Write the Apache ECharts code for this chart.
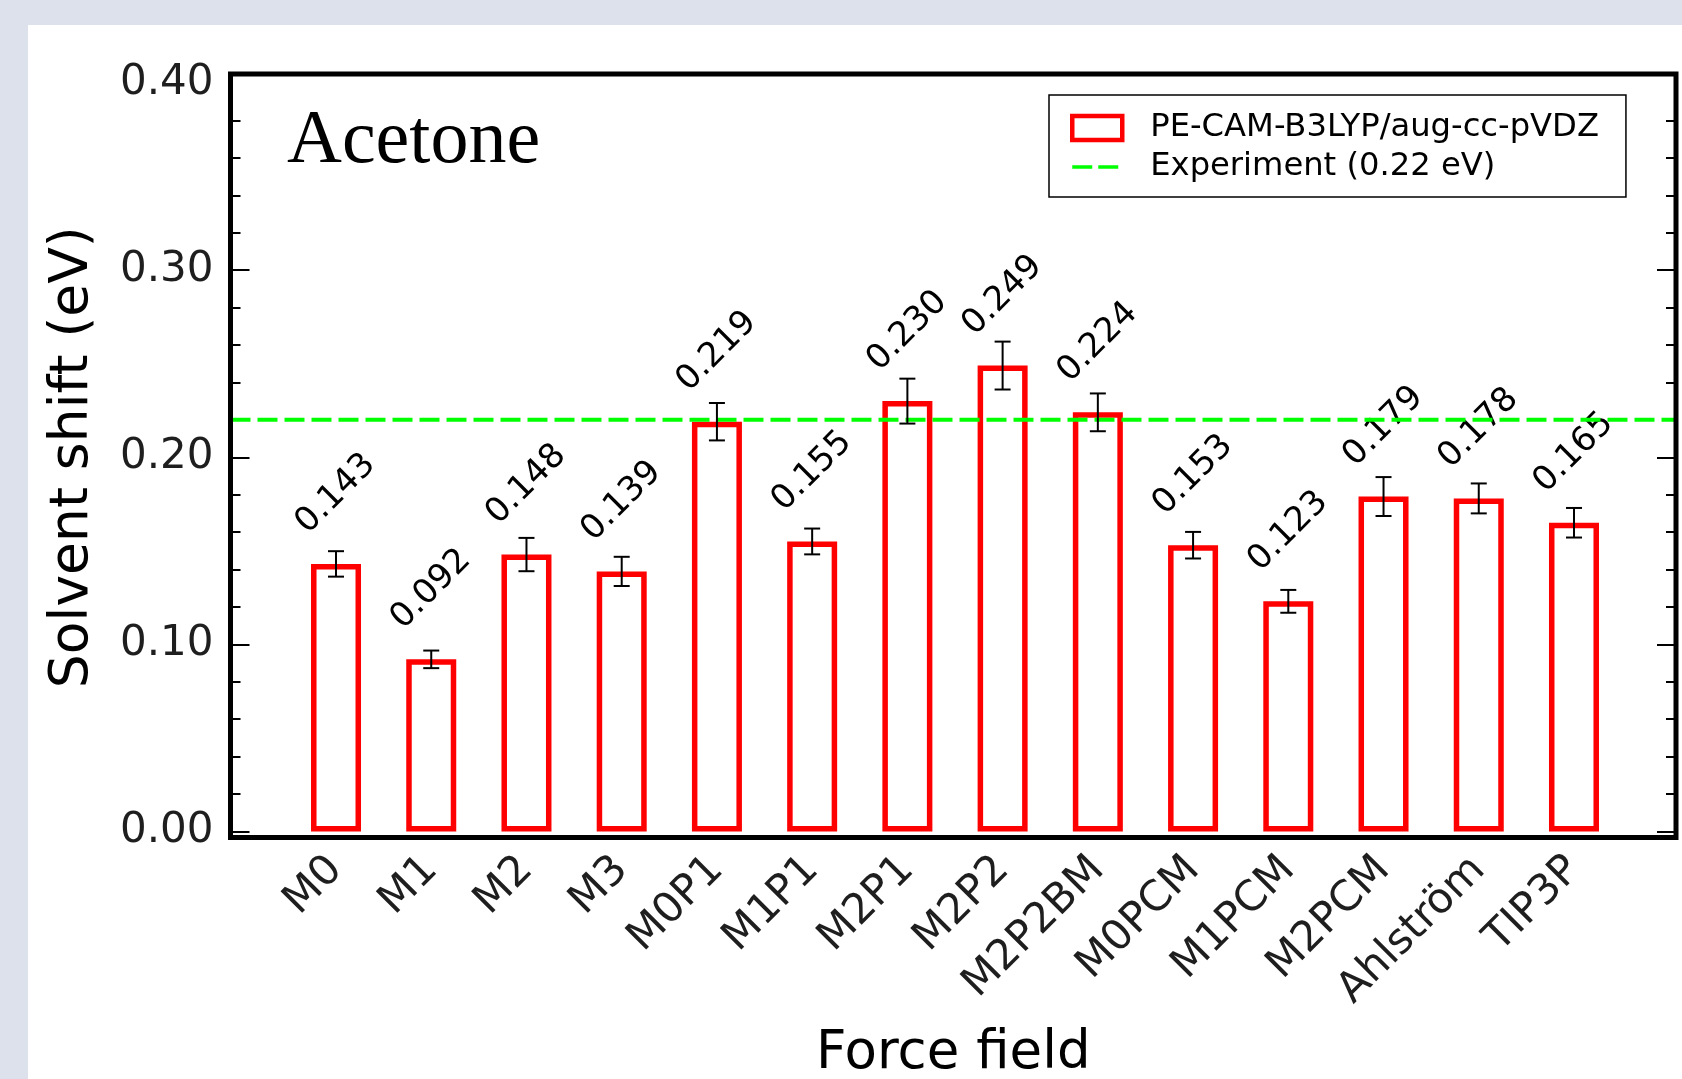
<!DOCTYPE html>
<html>
<head>
<meta charset="utf-8">
<title>Acetone solvent shift</title>
<script src="https://cdn.jsdelivr.net/npm/echarts@6/dist/echarts.min.js"></script>
<style>
  html, body { margin: 0; padding: 0; background: #dde1eb; }
  #chart { width: 1682px; height: 1079px; }
</style>
</head>
<body>
<div id="chart"></div>
<script>
// Force fields and the computed solvent shifts (eV) with their error estimates
const CATEGORIES = ['M0', 'M1', 'M2', 'M3', 'M0P1', 'M1P1', 'M2P1', 'M2P2', 'M2P2BM',
                    'M0PCM', 'M1PCM', 'M2PCM', 'Ahlström', 'TIP3P'];
const SHIFTS = [0.143, 0.092, 0.148, 0.139, 0.219, 0.155, 0.230, 0.249, 0.224,
                0.153, 0.123, 0.179, 0.178, 0.165];
const ERRORS = [0.0068, 0.0047, 0.0089, 0.0078, 0.0100, 0.0069, 0.0120, 0.0128, 0.0101,
                0.0071, 0.0061, 0.0104, 0.0080, 0.0079];
const EXPERIMENT = 0.22;

// y axis scale
const Y_MIN = 0;
const Y_MAX = 0.4;
const Y_LABELS = [0, 0.1, 0.2, 0.3, 0.4];
const Y_MAJOR_TICKS = [0, 0.1, 0.2, 0.3];
const Y_MINOR_TICKS = [0.02, 0.04, 0.06, 0.08, 0.12, 0.14, 0.16, 0.18,
                       0.22, 0.24, 0.26, 0.28, 0.32, 0.34, 0.36, 0.38];

const BAR_NAME = 'PE-CAM-B3LYP/aug-cc-pVDZ';
const EXP_NAME = 'Experiment (' + EXPERIMENT.toFixed(2) + ' eV)';

const FONT = 'DejaVu Sans';
const TEXT = '#1e1e1e';

const chart = echarts.init(document.getElementById('chart'), null, { renderer: 'canvas' });

function tickAxis(position, ticks, length, withLabels) {
  return {
    type: 'value', gridIndex: 0, position: position,
    min: Y_MIN, max: Y_MAX,
    axisLine: { show: false },
    splitLine: { show: false },
    axisTick: {
      show: true, inside: true, length: length, customValues: ticks,
      lineStyle: { color: '#000', width: 2 }
    },
    axisLabel: withLabels ? {
      show: true, customValues: Y_LABELS, margin: 17,
      formatter: v => v.toFixed(2),
      fontFamily: FONT, fontSize: 42, color: TEXT
    } : { show: false }
  };
}

const leftMajor = tickAxis('left', Y_MAJOR_TICKS, 19, true);
leftMajor.name = 'Solvent shift (eV)';
leftMajor.nameLocation = 'middle';
leftMajor.nameGap = 130;
leftMajor.nameTextStyle = { fontFamily: FONT, fontSize: 53.5, color: '#000' };

const option = {
  backgroundColor: 'transparent',
  animation: false,
  graphic: [{
    type: 'rect', silent: true, z: -10,
    shape: { x: 28, y: 25, width: 1682 - 28, height: 1079 - 25 },
    style: { fill: '#ffffff' }
  }],
  title: {
    text: 'Acetone', left: 287, top: 104, padding: 0,
    textStyle: { fontFamily: 'Liberation Serif', fontSize: 76, fontWeight: 'normal', color: '#000' }
  },
  legend: {
    orient: 'vertical', left: 1049, top: 95,
    padding: [17, 27, 14, 21],
    borderColor: '#000', borderWidth: 1.5, backgroundColor: '#fff',
    itemWidth: 50, itemHeight: 24, itemGap: 7,
    selectedMode: false,
    textStyle: { fontFamily: FONT, fontSize: 32.2, color: '#000', lineHeight: 30, padding: [0, 0, 0, 23] },
    data: [
      { name: BAR_NAME, icon: 'rect', itemStyle: { color: '#fff', borderColor: '#ff0000', borderWidth: 4.5 } },
      { name: EXP_NAME, itemStyle: { opacity: 0 },
        lineStyle: { color: '#00ff00', width: 3.5, type: [20, 6, 20, 60], opacity: 1 } }
    ]
  },
  grid: [
    // value grid: y ticks, labels, experiment line
    { left: 230.5, right: 6, top: 83, bottom: 247.5, containLabel: false, outerBoundsMode: 'none' },
    // frame around the plot area
    { left: 230.5, right: 6, top: 74, bottom: 241.5, containLabel: false, outerBoundsMode: 'none',
      show: true, borderColor: '#000', borderWidth: 5, backgroundColor: 'transparent', z: 6 },
    // bars
    { left: 288.4, right: 60.4, top: 83, bottom: 247.5, containLabel: false, outerBoundsMode: 'none' }
  ],
  xAxis: [
    {
      type: 'value', gridIndex: 0, min: 0, max: 1,
      axisLine: { show: false }, axisTick: { show: false }, axisLabel: { show: false },
      splitLine: { show: false },
      name: 'Force field', nameLocation: 'middle', nameGap: 196,
      nameTextStyle: { fontFamily: FONT, fontSize: 53, color: '#000' }
    },
    { type: 'value', gridIndex: 1, show: false, min: 0, max: 1 },
    {
      type: 'category', gridIndex: 2, data: CATEGORIES, boundaryGap: true,
      axisLine: { show: false }, axisTick: { show: false }, splitLine: { show: false },
      axisLabel: {
        show: true, interval: 0, rotate: 45, margin: 32,
        fontFamily: FONT, fontSize: 42, color: TEXT, hideOverlap: false
      }
    }
  ],
  yAxis: [
    leftMajor,
    tickAxis('left', Y_MINOR_TICKS, 10, false),
    tickAxis('right', Y_MAJOR_TICKS, 19, false),
    tickAxis('right', Y_MINOR_TICKS, 10, false),
    { type: 'value', gridIndex: 1, show: false, min: 0, max: 1 },
    { type: 'value', gridIndex: 2, show: false, min: Y_MIN, max: Y_MAX }
  ],
  series: [
    {
      name: BAR_NAME, type: 'bar', xAxisIndex: 2, yAxisIndex: 5,
      data: SHIFTS, barWidth: 50, z: 2,
      itemStyle: { color: 'rgba(255,255,255,0)', borderColor: '#ff0000', borderWidth: 5.5 },
      label: {
        show: true, position: 'top', distance: 70, rotate: 45,
        align: 'center', verticalAlign: 'middle',
        formatter: p => p.value.toFixed(3),
        fontFamily: FONT, fontSize: 34, color: '#000'
      }
    },
    {
      name: EXP_NAME, type: 'line', xAxisIndex: 0, yAxisIndex: 0,
      data: [[0, EXPERIMENT], [1, EXPERIMENT]],
      symbol: 'none', silent: true, z: 3,
      itemStyle: { color: '#00ff00' },
      lineStyle: { color: '#00ff00', width: 4, type: [20, 7] }
    },
    {
      name: 'error', type: 'custom', xAxisIndex: 2, yAxisIndex: 5, z: 4, silent: true,
      data: SHIFTS.map((v, i) => [i, v, ERRORS[i]]),
      encode: { x: 0, y: 1 },
      renderItem: (params, api) => {
        const i = api.value(0), v = api.value(1), e = api.value(2);
        const top = api.coord([i, v + e]);
        const bot = api.coord([i, v - e]);
        const hw = 8;
        const st = { stroke: '#000', lineWidth: 2 };
        return {
          type: 'group',
          children: [
            { type: 'line', shape: { x1: top[0], y1: top[1], x2: bot[0], y2: bot[1] }, style: st },
            { type: 'line', shape: { x1: top[0] - hw, y1: top[1], x2: top[0] + hw, y2: top[1] }, style: st },
            { type: 'line', shape: { x1: bot[0] - hw, y1: bot[1], x2: bot[0] + hw, y2: bot[1] }, style: st }
          ]
        };
      }
    }
  ]
};

chart.setOption(option);
</script>
</body>
</html>
